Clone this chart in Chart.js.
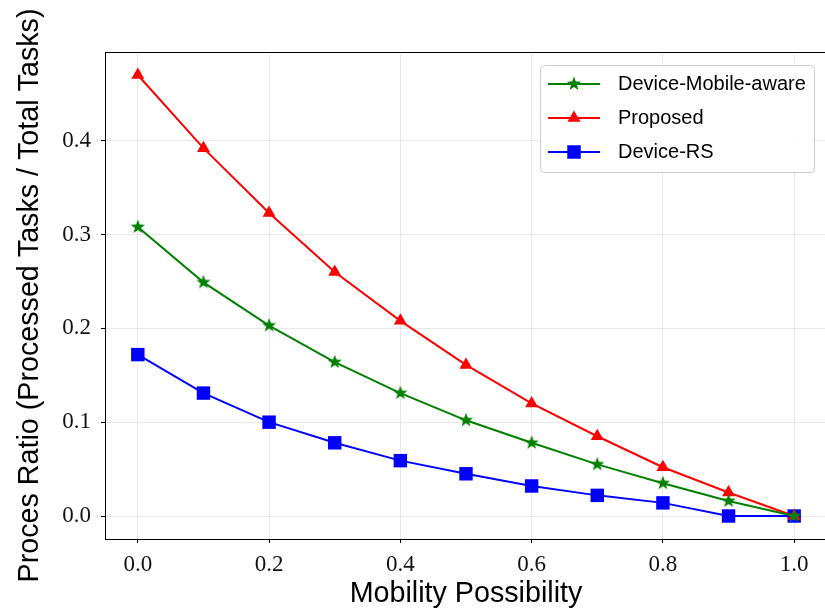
<!DOCTYPE html>
<html>
<head>
<meta charset="utf-8">
<script src="https://cdn.jsdelivr.net/npm/chart.js@4.4.0/dist/chart.umd.min.js"></script>
<style>
html,body{margin:0;padding:0;background:#fff;overflow:hidden}
canvas{display:block}
</style>
</head>
<body>
<canvas id="chart" width="830" height="613"></canvas>
<script>
// data
let mobility=[0,0.1,0.2,0.3,0.4,0.5,0.6,0.7,0.8,0.9,1.0]
let mobileAware=[0.308,0.249,0.203,0.164,0.131,0.102,0.078,0.055,0.035,0.016,0.0]
let proposed=[0.470,0.392,0.323,0.260,0.208,0.161,0.120,0.085,0.052,0.025,0.0]
let deviceRS=[0.172,0.131,0.100,0.078,0.059,0.045,0.032,0.022,0.014,0.0,0.0]
let xTicks=[0,0.2,0.4,0.6,0.8,1.0]
let yTicks=[0,0.1,0.2,0.3,0.4]
let seriesNames=["Device-Mobile-aware","Proposed","Device-RS"]

let gridColor="rgba(176,176,176,0.35)"

function makeStar(color){
let c=document.createElement("canvas")
c.width=18
c.height=18
let g=c.getContext("2d")
g.fillStyle=color
g.beginPath()
for(let i=0;i<10;i++){
let r=i%2==0?7.5:3.1
let a=-Math.PI/2+i*Math.PI/5
g.lineTo(9+r*Math.cos(a),9+r*Math.sin(a))
}
g.closePath()
g.fill()
return c
}

function toPoints(ys){
return mobility.map((x,i)=>({x:x,y:ys[i]}))
}

function drawMarker(ctx,ds,x,y){
ctx.fillStyle=ds.pointBackgroundColor
if(ds.pointStyle instanceof HTMLCanvasElement){
ctx.drawImage(ds.pointStyle,x-ds.pointStyle.width/2,y-ds.pointStyle.height/2)
}else if(ds.pointStyle=="triangle"){
let r=ds.pointRadius
ctx.beginPath()
ctx.moveTo(x,y-r)
ctx.lineTo(x+r*Math.sin(2*Math.PI/3),y-r*Math.cos(2*Math.PI/3))
ctx.lineTo(x+r*Math.sin(4*Math.PI/3),y-r*Math.cos(4*Math.PI/3))
ctx.closePath()
ctx.fill()
}else{
let s=ds.pointRadius*Math.SQRT1_2
ctx.fillRect(x-s,y-s,2*s,2*s)
}
}

// box around the plot (top and right sides)
const frame={
id:"frame",
beforeDatasetsDraw(chart){
let a=chart.chartArea
let ctx=chart.ctx
ctx.save()
ctx.strokeStyle="#000"
ctx.lineWidth=1
ctx.beginPath()
ctx.moveTo(a.left,a.top+0.5)
ctx.lineTo(a.right,a.top+0.5)
ctx.lineTo(a.right-0.5,a.bottom)
ctx.stroke()
ctx.restore()
}
}

// legend drawn in the upper right like matplotlib
const boxLegend={
id:"boxLegend",
afterDraw(chart){
let ctx=chart.ctx
ctx.save()
ctx.beginPath()
ctx.roundRect(540.5,65.5,274,107,4)
ctx.fillStyle="rgba(255,255,255,0.85)"
ctx.fill()
ctx.strokeStyle="#cccccc"
ctx.lineWidth=1
ctx.stroke()
chart.data.datasets.forEach((ds,i)=>{
let y=84+i*34
ctx.strokeStyle=ds.borderColor
ctx.lineWidth=ds.borderWidth
ctx.beginPath()
ctx.moveTo(548,y)
ctx.lineTo(600,y)
ctx.stroke()
drawMarker(ctx,ds,574,y)
ctx.fillStyle="#000"
ctx.font="20px 'Liberation Sans'"
ctx.textBaseline="middle"
ctx.fillText(ds.label,618,y)
})
ctx.restore()
}
}

let chart=new Chart(document.getElementById("chart"),{
type:"line",
data:{
datasets:[{
label:seriesNames[0],
data:toPoints(mobileAware),
borderColor:"#008000",
backgroundColor:"#008000",
pointBackgroundColor:"#008000",
pointBorderWidth:0,
borderWidth:2,
pointStyle:makeStar("#008000"),
pointRadius:7
},{
label:seriesNames[1],
data:toPoints(proposed),
borderColor:"#ff0000",
backgroundColor:"#ff0000",
pointBackgroundColor:"#ff0000",
pointBorderWidth:0,
borderWidth:2,
pointStyle:"triangle",
pointRadius:7.5
},{
label:seriesNames[2],
data:toPoints(deviceRS),
borderColor:"#0000ff",
backgroundColor:"#0000ff",
pointBackgroundColor:"#0000ff",
pointBorderWidth:0,
borderWidth:2,
pointStyle:"rect",
pointRadius:9.5
}]
},
options:{
responsive:false,
animation:false,
layout:{autoPadding:false,padding:{top:52,right:3,left:0,bottom:0}},
plugins:{legend:{display:false},tooltip:{enabled:false}},
scales:{
x:{
type:"linear",
min:-0.05,
max:1.05,
afterBuildTicks(s){s.ticks=xTicks.map(v=>({value:v}))},
afterFit(s){
s.height=74
s.paddingLeft=0
s.paddingRight=0
},
grid:{color:gridColor,lineWidth:0.8,tickColor:"#000",tickLength:4,tickWidth:1},
border:{color:"#000",width:1},
ticks:{font:{family:"Liberation Serif",size:23},color:"#111",padding:8,maxRotation:0,callback:v=>v.toFixed(1)},
title:{display:true,text:"Mobility Possibility",font:{family:"Liberation Sans",size:28.7},color:"#000",padding:{top:0,bottom:2}}
},
y:{
min:-0.0245,
max:0.4945,
afterBuildTicks(s){s.ticks=yTicks.map(v=>({value:v}))},
afterFit(s){
s.width=105
s.paddingTop=0
s.paddingBottom=0
},
grid:{color:gridColor,lineWidth:0.8,tickColor:"#000",tickLength:4,tickWidth:1},
border:{color:"#000",width:1},
ticks:{font:{family:"Liberation Serif",size:23},color:"#111",padding:10,callback:v=>v.toFixed(1)},
title:{display:true,text:"Proces Ratio (Processed Tasks / Total Tasks)",font:{family:"Liberation Sans",size:28.7},color:"#000",padding:{top:13,bottom:0}}
}
}
},
plugins:[frame,boxLegend]
})
</script>
</body>
</html>
